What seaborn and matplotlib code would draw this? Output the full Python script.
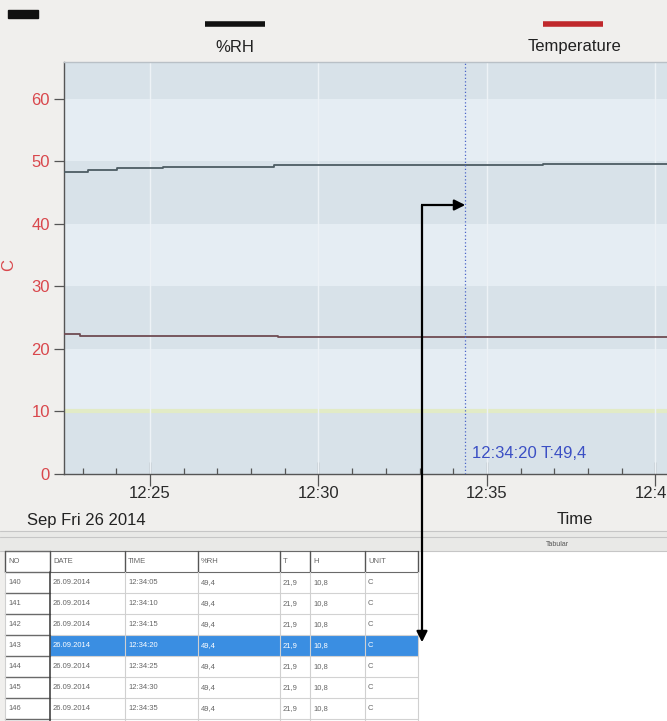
import matplotlib
matplotlib.use("Agg")
import matplotlib.pyplot as plt
import seaborn as sns
import pandas as pd
from matplotlib.patches import Rectangle

# ---- logged traces (step changes) ----
rh_times = ["12:22:27", "12:23:10", "12:24:01", "12:25:23", "12:28:40",
            "12:31:30", "12:36:40", "12:40:59"]
rh_values = [48.2, 48.6, 48.9, 49.1, 49.3, 49.4, 49.6, 49.6]

temp_times = ["12:22:27", "12:22:55", "12:28:48", "12:40:59"]
temp_values = [22.4, 22.1, 21.9, 21.9]

y_ticks = [0, 10, 20, 30, 40, 50, 60]
x_major_labels = ["12:25", "12:30", "12:35", "12:40"]
x_minor_labels = ["12:23", "12:24", "12:26", "12:27", "12:28", "12:29", "12:31",
                  "12:32", "12:33", "12:34", "12:36", "12:37", "12:38", "12:39"]
date_label = "Sep Fri 26 2014"

cursor_time = "12:34:20"
cursor_value = "49,4"

# ---- tabular view ----
table_header = ["NO", "DATE", "TIME", "%RH", "T", "H", "UNIT"]
row_numbers = ["140", "141", "142", "143", "144", "145", "146"]
row_dates = ["26.09.2014"] * 7
row_times = ["12:34:05", "12:34:10", "12:34:15", "12:34:20",
             "12:34:25", "12:34:30", "12:34:35"]
row_rh = ["49,4"] * 7
row_t = ["21,9"] * 7
row_h = ["10,8"] * 7
row_unit = ["C"] * 7
selected_row = "143"


def to_minutes(s):
    parts = [int(p) for p in s.split(":")]
    if len(parts) == 2:
        parts.append(0)
    h, m, sec = parts
    return (h - 12) * 60 + m + sec / 60.0


W, H = 667, 721
BG = "#f0efed"
sns.set_style("white")
plt.rcParams["font.family"] = ["Liberation Sans", "DejaVu Sans"]

fig = plt.figure(figsize=(W / 100, H / 100), dpi=100, facecolor=BG)

# plot area in pixel terms
left_px, right_px, top_px, bottom_px = 64, 687, 62, 474
px_per_min = 33.7
px_per_unit = 6.258
x0 = 25 - (150 - left_px) / px_per_min
x1 = x0 + (right_px - left_px) / px_per_min
y1 = (bottom_px - top_px) / px_per_unit

ax = fig.add_axes([left_px / W, 1 - bottom_px / H,
                   (right_px - left_px) / W, (bottom_px - top_px) / H])
ax.set_xlim(x0, x1)
ax.set_ylim(0, y1)
ax.set_facecolor("#e4ecf2")

# alternating horizontal bands
dark, light = "#d8e2e9", "#e5edf3"
for i, lo in enumerate(y_ticks):
    ax.axhspan(lo, lo + 10, color=dark if i % 2 == 0 else light, lw=0, zorder=0)
ax.axhline(10, color="#e2ebc6", lw=3, zorder=1)
for lbl in x_major_labels:
    ax.axvline(to_minutes(lbl), color="#edf2f6", lw=1.0, zorder=1)

rh_df = pd.DataFrame({"minute": [to_minutes(t) for t in rh_times], "value": rh_values})
temp_df = pd.DataFrame({"minute": [to_minutes(t) for t in temp_times], "value": temp_values})

sns.lineplot(data=rh_df, x="minute", y="value", ax=ax, color="#4d5c63",
             lw=1.3, drawstyle="steps-post", zorder=3)
sns.lineplot(data=temp_df, x="minute", y="value", ax=ax, color="#6f4c53",
             lw=1.3, drawstyle="steps-post", zorder=3)

# cursor
cx = to_minutes(cursor_time)
ax.axvline(cx, color="#4a64c8", lw=0.9, ls=(0, (1, 1.8)), zorder=4)
ax.text(cx + 0.22, 3.3, f"{cursor_time} T:{cursor_value}", color="#3b4fc4",
        fontsize=12, va="center", ha="left", zorder=5)

# axes styling
ax.set_xlabel("")
ax.set_ylabel("")
ax.set_yticks(y_ticks)
ax.set_yticklabels([str(v) for v in y_ticks], color="#d9474c", fontsize=12)
ax.tick_params(axis="y", direction="out", length=7.5, width=0.9, color="#555555", pad=2.5,
               left=True)
ax.set_xticks([to_minutes(t) for t in x_major_labels])
ax.set_xticklabels(x_major_labels, fontsize=12, color="#2a2a2a")
ax.set_xticks([to_minutes(t) for t in x_minor_labels], minor=True)
ax.tick_params(axis="x", which="major", direction="inout", length=17, width=0.9,
               color="#555555", pad=0.5, bottom=True)
ax.tick_params(axis="x", which="minor", direction="in", length=4, width=0.9,
               color="#555555", bottom=True)
ax.spines["right"].set_visible(False)
ax.spines["top"].set_color("#b9c0c6")
ax.spines["left"].set_color("#555555")
ax.spines["bottom"].set_color("#555555")
for s in ax.spines.values():
    s.set_linewidth(1.0)
ax.grid(False)

# ---- overlay in pixel coordinates for the surrounding window parts ----
ov = fig.add_axes([0, 0, 1, 1], zorder=10)
ov.set_xlim(0, W)
ov.set_ylim(H, 0)
ov.axis("off")
ov.patch.set_alpha(0)

# series key above the plot
ov.add_patch(Rectangle((8, 10), 30, 8, color="#111111"))
ov.plot([205, 265], [24, 24], color="#111111", lw=4, solid_capstyle="butt")
ov.plot([543, 603], [24, 24], color="#c0282c", lw=4, solid_capstyle="butt")
ov.text(235, 47, "%RH", ha="center", va="center", fontsize=12, color="#222222")
ov.text(575, 47, "Temperature", ha="center", va="center", fontsize=12, color="#222222")

ov.text(9, 265, "C", rotation=90, ha="center", va="center", fontsize=12, color="#d9474c")
ov.text(27, 520, date_label, ha="left", va="center", fontsize=12, color="#222222")
ov.text(575, 520, "Time", ha="center", va="center", fontsize=12, color="#222222")

# tab strip
ov.add_patch(Rectangle((0, 531), W, 20, facecolor="#e9e9e7", edgecolor="none"))
for yy in (531, 537, 551):
    ov.plot([0, W], [yy, yy], color="#c6c6c6", lw=0.8)
ov.text(557, 544, "Tabular", ha="center", va="center", fontsize=5, color="#555555")

# white list area
ov.add_patch(Rectangle((5, 551), W - 5, H - 551, facecolor="white", edgecolor="none"))

col_edges = [5, 50, 125, 198, 280, 310, 365, 418]
row_top = 551
row_ht = 21
columns = [row_numbers, row_dates, row_times, row_rh, row_t, row_h, row_unit]
n_rows = len(row_numbers)

for r in range(n_rows):
    y_top = row_top + row_ht * (r + 1)
    if row_numbers[r] == selected_row:
        ov.add_patch(Rectangle((col_edges[1], y_top), col_edges[-1] - col_edges[1], row_ht,
                               facecolor="#3a8ee2", edgecolor="none"))

# grid lines
for r in range(n_rows + 2):
    yy = row_top + row_ht * r
    ov.plot([col_edges[1], col_edges[-1]], [yy, yy], color="#d2d2d2" if r > 1 else "#6a6a6a",
            lw=0.8)
    ov.plot([col_edges[0], col_edges[1]], [yy, yy], color="#6a6a6a", lw=1.0)
for i, xx in enumerate(col_edges):
    ov.plot([xx, xx], [row_top, row_top + row_ht], color="#555555", lw=1.0)
    ov.plot([xx, xx], [row_top + row_ht, H], color="#444444" if i == 1 else "#d0d0d0",
            lw=1.2 if i == 1 else 0.8)

for c, head in enumerate(table_header):
    ov.text(col_edges[c] + 3, row_top + row_ht / 2, head, ha="left", va="center",
            fontsize=5.5, color="#666666")
for r in range(n_rows):
    yc = row_top + row_ht * (r + 1.5)
    sel = row_numbers[r] == selected_row
    for c, col in enumerate(columns):
        colr = "#ffffff" if (sel and c > 0) else "#666666"
        ov.text(col_edges[c] + 3, yc, col[r], ha="left", va="center", fontsize=5.5, color=colr)

# pointer from the selected row to the cursor
ov.plot([422, 422], [205, 630], color="black", lw=1.6, solid_capstyle="butt")
ov.annotate("", xy=(422, 645), xytext=(422, 628),
            arrowprops=dict(arrowstyle="-|>", color="black", lw=1.6, mutation_scale=16))
ov.plot([421, 452], [205, 205], color="black", lw=1.6, solid_capstyle="butt")
ov.annotate("", xy=(468, 205), xytext=(450, 205),
            arrowprops=dict(arrowstyle="-|>", color="black", lw=1.6, mutation_scale=16))

fig.savefig("out.png", dpi=100, facecolor=BG)
